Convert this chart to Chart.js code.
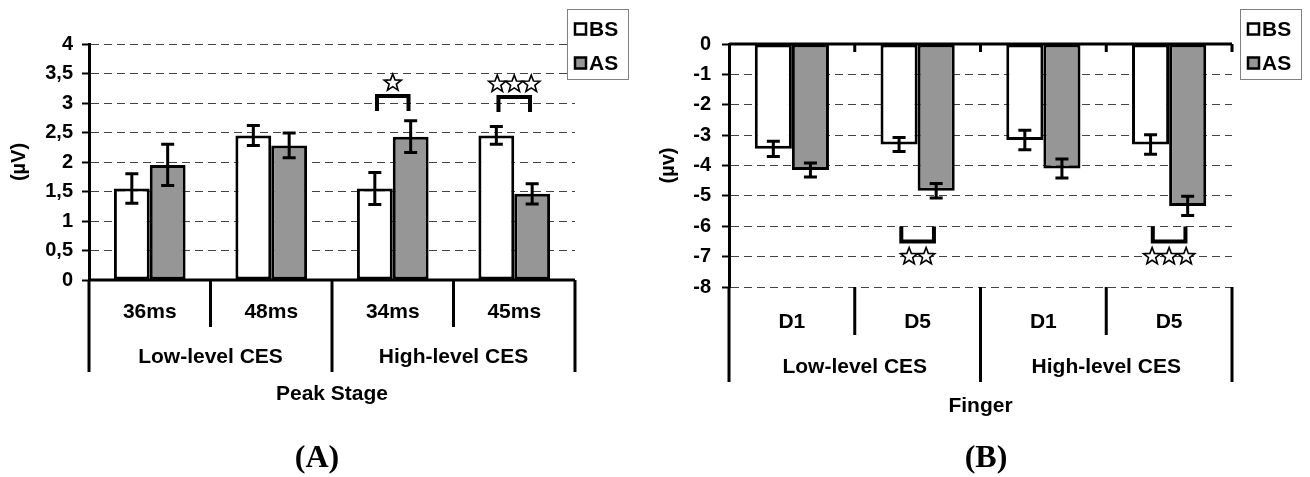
<!DOCTYPE html>
<html>
<head>
<meta charset="utf-8">
<script src="https://cdn.jsdelivr.net/npm/chart.js@4.4.1/dist/chart.umd.min.js"></script>
<style>
  body { margin: 0; background: #fff; }
  #wrap { position: relative; width: 1310px; height: 477px; }
  canvas { position: absolute; top: 0; }
  #chartA { left: 0; }
  #chartB { left: 655px; }
</style>
</head>
<body>
<div id="wrap">
  <canvas id="chartA" width="655" height="477"></canvas>
  <canvas id="chartB" width="655" height="477"></canvas>
</div>
<script>
// Panel A: amplitude per peak stage
const stagesA = ["36ms", "48ms", "34ms", "45ms"];
const groupsA = ["Low-level CES", "High-level CES"];
const bsA = [1.55, 2.45, 1.55, 2.45];
const asA = [1.95, 2.28, 2.43, 1.46];
const bsErrA = [0.25, 0.17, 0.27, 0.15];
const asErrA = [0.35, 0.21, 0.27, 0.17];
const ticksA = ["0", "0,5", "1", "1,5", "2", "2,5", "3", "3,5", "4"];
// significance marks: category, number of stars, bracket level
const sigCatA = [2, 3];
const sigStarsA = [1, 3];
const sigLevelA = [3.12, 3.1];

// Panel B: amplitude per finger
const fingersB = ["D1", "D5", "D1", "D5"];
const groupsB = ["Low-level CES", "High-level CES"];
const bsB = [-3.45, -3.31, -3.16, -3.31];
const asB = [-4.15, -4.83, -4.1, -5.33];
const bsErrB = [0.25, 0.23, 0.32, 0.32];
const asErrB = [0.23, 0.24, 0.31, 0.32];
const ticksB = ["-8", "-7", "-6", "-5", "-4", "-3", "-2", "-1", "0"];
const sigCatB = [1, 3];
const sigStarsB = [2, 3];
const sigLevelB = [-6.5, -6.5];

const seriesNames = ["BS", "AS"];
const seriesColors = ["#ffffff", "#969696"];

const SANS = "'Liberation Sans', Arial, sans-serif";

// hollow five point star
function star(ctx, cx, cy, r) {
  ctx.beginPath();
  for (let k = 0; k < 10; k++) {
    const rr = k % 2 === 0 ? r : r * 0.42;
    const a = -Math.PI / 2 + (k * Math.PI) / 5;
    const px = cx + rr * Math.cos(a);
    const py = cy + rr * Math.sin(a);
    if (k === 0) ctx.moveTo(px, py);
    else ctx.lineTo(px, py);
  }
  ctx.closePath();
  ctx.fillStyle = "#fff";
  ctx.fill();
  ctx.lineWidth = 1.6;
  ctx.stroke();
}

// draws error bars, category axis, brackets, legend and panel label
const extras = {
  id: "extras",
  afterDraw(chart, args, opts) {
    const ctx = chart.ctx;
    const x = chart.scales.x;
    const y = chart.scales.y;
    const area = chart.chartArea;
    const n = opts.cats.length;
    const off = opts.offsets;
    ctx.save();
    ctx.strokeStyle = "#000";
    ctx.fillStyle = "#000";

    // error bars
    chart.data.datasets.forEach((ds, di) => {
      const errs = opts.errors[di];
      chart.getDatasetMeta(di).data.forEach((bar, i) => {
        const top = y.getPixelForValue(ds.data[i] + errs[i]);
        const bot = y.getPixelForValue(ds.data[i] - errs[i]);
        ctx.lineWidth = 3;
        ctx.beginPath();
        ctx.moveTo(bar.x, top);
        ctx.lineTo(bar.x, bot);
        ctx.moveTo(bar.x - 6.5, top);
        ctx.lineTo(bar.x + 6.5, top);
        ctx.moveTo(bar.x - 6.5, bot);
        ctx.lineTo(bar.x + 6.5, bot);
        ctx.stroke();
      });
    });

    // zero line
    const y0 = y.getPixelForValue(0);
    ctx.lineWidth = 3;
    ctx.beginPath();
    ctx.moveTo(area.left, y0);
    ctx.lineTo(area.right, y0);
    ctx.stroke();

    // category boundaries
    for (let k = 0; k <= n; k++) {
      const bx = x.getPixelForValue(k - 0.5);
      ctx.beginPath();
      if (opts.topTicks && k > 0) {
        ctx.moveTo(bx, y0);
        ctx.lineTo(bx, y0 + 8);
      }
      ctx.moveTo(bx, area.bottom);
      ctx.lineTo(bx, area.bottom + (k % 2 === 1 ? off[3] : off[4]));
      ctx.stroke();
    }

    // category, group and axis labels
    ctx.font = "bold 21px " + SANS;
    ctx.textAlign = "center";
    ctx.textBaseline = "middle";
    opts.cats.forEach((c, i) => {
      ctx.fillText(c, x.getPixelForValue(i), area.bottom + off[0]);
    });
    opts.groups.forEach((g, j) => {
      ctx.fillText(g, x.getPixelForValue(j * 2 + 0.5), area.bottom + off[1]);
    });
    ctx.fillText(opts.title, (area.left + area.right) / 2, area.bottom + off[2]);

    // significance brackets
    const barW = chart.getDatasetMeta(0).data[0].width;
    opts.sigCats.forEach((c, s) => {
      const cx = x.getPixelForValue(c);
      const half = barW * 0.44;
      const ly = y.getPixelForValue(opts.sigLevels[s]);
      const dir = opts.sigLevels[s] > 0 ? 1 : -1;
      ctx.lineWidth = 4;
      ctx.beginPath();
      ctx.moveTo(cx - half, ly + dir * 15);
      ctx.lineTo(cx - half, ly);
      ctx.lineTo(cx + half, ly);
      ctx.lineTo(cx + half, ly + dir * 15);
      ctx.stroke();
      const cnt = opts.sigStars[s];
      const sy = dir > 0 ? ly - 13 : ly + 15;
      for (let k = 0; k < cnt; k++) {
        star(ctx, cx + (k - (cnt - 1) / 2) * 17, sy, 9);
      }
    });

    // legend
    const lx = opts.legendX;
    ctx.fillStyle = "#fff";
    ctx.fillRect(lx, 9, 61, 70);
    ctx.strokeStyle = "#808080";
    ctx.lineWidth = 1;
    ctx.strokeRect(lx + 0.5, 9.5, 61, 70);
    ctx.font = "bold 21px " + SANS;
    ctx.textAlign = "left";
    chart.data.datasets.forEach((ds, di) => {
      const iy = 29 + di * 34;
      ctx.fillStyle = ds.backgroundColor;
      ctx.fillRect(lx + 8, iy - 5.5, 11, 11);
      ctx.strokeStyle = "#000";
      ctx.lineWidth = 2.5;
      ctx.strokeRect(lx + 8, iy - 5.5, 11, 11);
      ctx.fillStyle = "#000";
      ctx.fillText(ds.label, lx + 22, iy + 1);
    });

    // panel label
    ctx.font = "bold 32px 'Liberation Serif', 'Times New Roman', serif";
    ctx.textAlign = "center";
    ctx.fillText(opts.panel, opts.panelX, 459);
    ctx.restore();
  }
};

function makeChart(id, cfg) {
  return new Chart(document.getElementById(id), {
    type: "bar",
    plugins: [extras],
    data: {
      labels: cfg.cats,
      datasets: [
        { label: seriesNames[0], data: cfg.bs, backgroundColor: seriesColors[0] },
        { label: seriesNames[1], data: cfg.as, backgroundColor: seriesColors[1] }
      ].map((d) => Object.assign(d, {
        borderColor: "#000",
        borderWidth: 3,
        borderSkipped: false,
        categoryPercentage: 0.59,
        barPercentage: 1
      }))
    },
    options: {
      responsive: false,
      animation: false,
      layout: { padding: cfg.padding },
      scales: {
        x: { display: false },
        y: {
          min: cfg.min,
          max: cfg.max,
          afterFit: (s) => { s.width = cfg.axisW; },
          ticks: {
            stepSize: cfg.step,
            padding: cfg.tickPad,
            color: "#000",
            font: { family: SANS, size: 20, weight: "bold" },
            callback: (v, i) => cfg.ticks[i]
          },
          grid: {
            color: "#444",
            lineWidth: 1,
            tickColor: "#000",
            tickWidth: 2,
            tickLength: 7
          },
          border: { color: "#000", width: 3, dash: [8, 5] },
          title: {
            display: true,
            text: cfg.yTitle,
            color: "#000",
            padding: { top: cfg.titlePad, bottom: 0 },
            font: { family: SANS, size: 20, weight: "bold" }
          }
        }
      },
      plugins: {
        legend: { display: false },
        tooltip: { enabled: false },
        extras: {
          errors: [cfg.bsErr, cfg.asErr],
          cats: cfg.cats,
          groups: cfg.groups,
          title: cfg.xTitle,
          sigCats: cfg.sigCats,
          sigStars: cfg.sigStars,
          sigLevels: cfg.sigLevels,
          topTicks: cfg.topTicks,
          offsets: cfg.offsets,
          legendX: cfg.legendX,
          panel: cfg.panel,
          panelX: cfg.panelX
        }
      }
    }
  });
}

makeChart("chartA", {
  cats: stagesA, groups: groupsA, bs: bsA, as: asA, bsErr: bsErrA, asErr: asErrA,
  ticks: ticksA, min: 0, max: 4, step: 0.5,
  sigCats: sigCatA, sigStars: sigStarsA, sigLevels: sigLevelA,
  yTitle: "(µV)", xTitle: "Peak Stage", panel: "(A)",
  padding: { top: 44, right: 80, bottom: 197, left: 0 },
  axisW: 89, tickPad: 9, titlePad: 7, topTicks: false,
  offsets: [32, 77, 114, 47, 92],
  legendX: 567, panelX: 317
});

makeChart("chartB", {
  cats: fingersB, groups: groupsB, bs: bsB, as: asB, bsErr: bsErrB, asErr: asErrB,
  ticks: ticksB, min: -8, max: 0, step: 1,
  sigCats: sigCatB, sigStars: sigStarsB, sigLevels: sigLevelB,
  yTitle: "(µv)", xTitle: "Finger", panel: "(B)",
  padding: { top: 44, right: 78, bottom: 190, left: 0 },
  axisW: 74, tickPad: 11, titlePad: 1, topTicks: true,
  offsets: [35, 80, 119, 48, 95],
  legendX: 585, panelX: 331
});
</script>
</body>
</html>
